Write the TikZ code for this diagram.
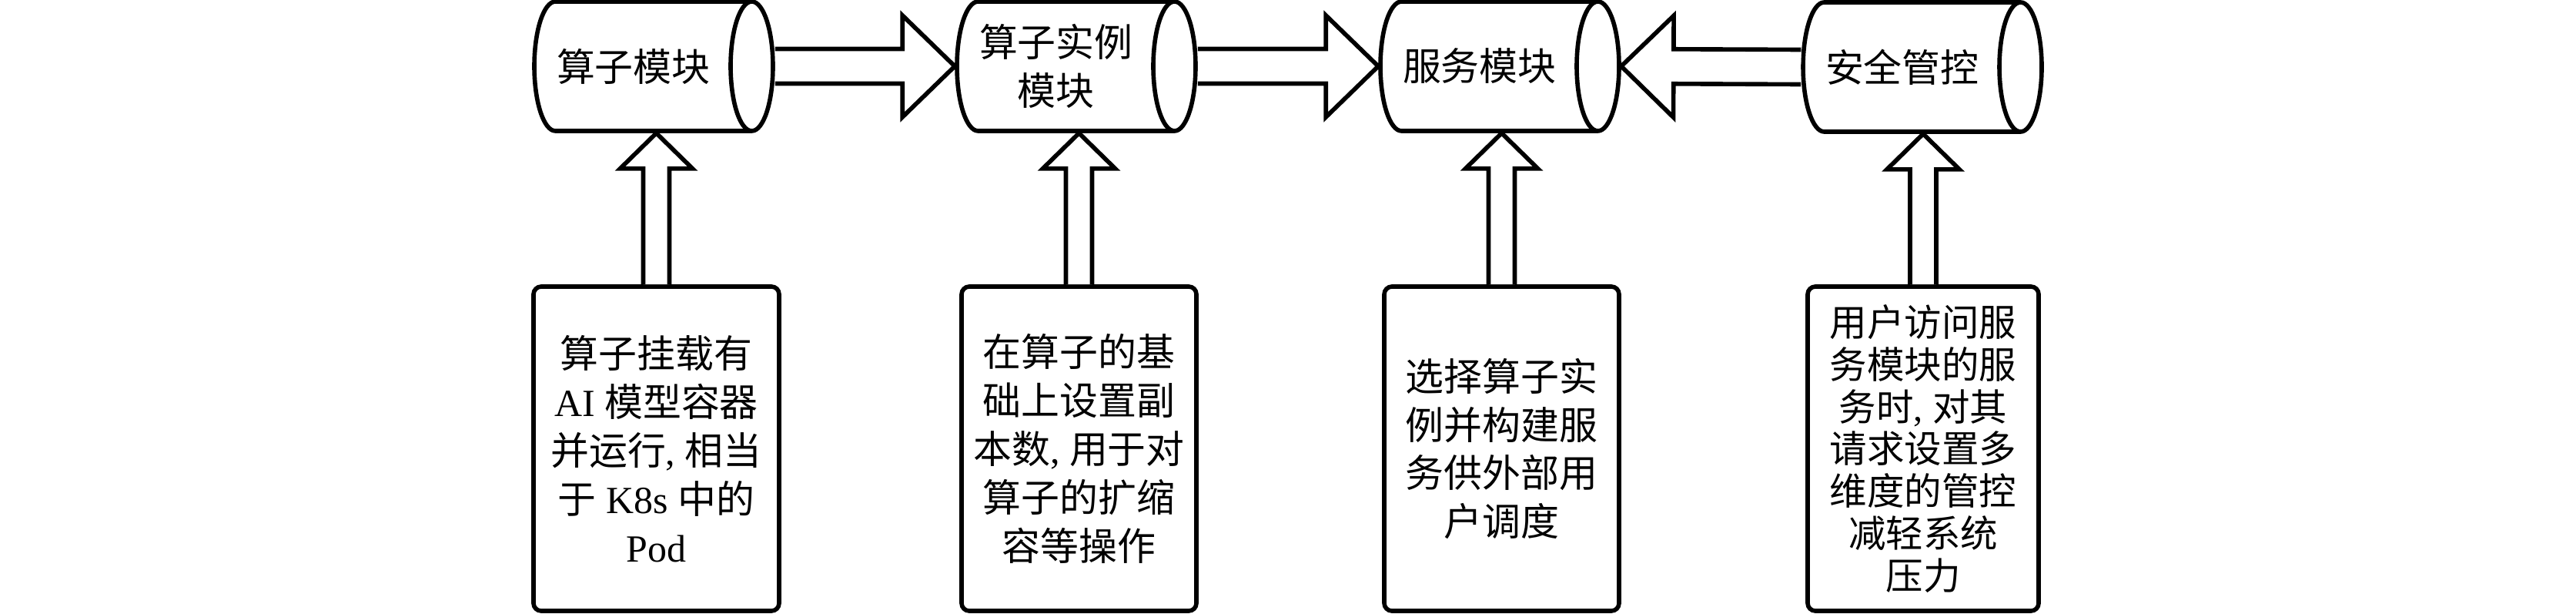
\documentclass[tikz,border=0pt]{standalone}
\usepackage{fontspec}
\setmainfont{Liberation Serif}
\newfontfamily\cjk{Noto Sans CJK SC}
\newcommand\en[1]{{\rmfamily #1}}
\newcommand\cyltext[1]{\parbox[c][1.1cm][c]{2.02cm}{\centering #1}\hspace*{0.22cm}}
\usetikzlibrary{shapes.geometric,calc}

\begin{document}
\begin{tikzpicture}[line width=1.6pt,
  every node/.style={font=\cjk\fontsize{14.2pt}{17.9pt}\selectfont, align=center},
  cyl/.style={draw, cylinder, shape aspect=0.5, minimum width=1.68cm, minimum height=3.1cm, inner sep=0pt, anchor=shape center},
  note/.style={draw, rounded corners=0.1cm, minimum width=3.05cm, minimum height=4.21cm, inner sep=0pt},
  fat/.style n args={3}{draw, fill=white, line join=miter, to path={
    ($(\tikztostart)!#1!90:(\tikztotarget)$)
    -- ($(\tikztotarget)!#3!(\tikztostart)!#1!-90:(\tikztostart)$)
    -- ($(\tikztotarget)!#3!(\tikztostart)!#2!-90:(\tikztostart)$)
    -- (\tikztotarget)
    -- ($(\tikztotarget)!#3!(\tikztostart)!#2!90:(\tikztostart)$)
    -- ($(\tikztotarget)!#3!(\tikztostart)!#1!90:(\tikztostart)$)
    -- ($(\tikztostart)!#1!-90:(\tikztotarget)$)}},
  hfat/.style={fat={0.225cm}{0.66cm}{0.68cm}},
  vfat/.style={fat={0.17cm}{0.47cm}{0.46cm}}]
\useasboundingbox (0,0) rectangle (33.46,-7.97);
\begin{scope}[shift={(0,0)}]
% modules
\node[cyl] (m1) at (8.49,-0.86) {\cyltext{算子模块}};
\node[cyl] (m2) at (13.98,-0.86) {\cyltext{算子实例\\模块}};
\node[cyl] (m3) at (19.48,-0.86) {\cyltext{服务模块}};
\node[cyl] (m4) at (24.97,-0.87) {\cyltext{安全管控}};
% notes
\node[note, minimum width=3.19cm] (t1) at (8.525,-5.825) {算子挂载有\\\en{AI }模型容器\\并运行\en{, }相当\\于\en{ K8s }中的\\\en{Pod}};
\node[note] (t2) at (14.015,-5.825) {在算子的基\\础上设置副\\本数\en{, }用于对\\算子的扩缩\\容等操作};
\node[note] (t3) at (19.505,-5.825) {选择算子实\\例并构建服\\务供外部用\\户调度};
\node[note, minimum width=3.0cm, font=\cjk\fontsize{13.8pt}{15.6pt}\selectfont] (t4) at (24.98,-5.825) {用户访问服\\务模块的服\\务时\en{, }对其\\请求设置多\\维度的管控\\减轻系统\\压力};
% arrows
\draw[hfat] (m1.east) to (m2.west);
\draw[hfat] (m2.east) to (m3.west);
\draw[hfat] (m4.west) to (m3.east);
\draw[vfat] (t1.north) to (t1.north |- m1.south);
\draw[vfat] (t2.north) to (t2.north |- m2.south);
\draw[vfat] (t3.north) to (t3.north |- m3.south);
\draw[vfat] (t4.north) to (t4.north |- m4.south);
\end{scope}
\end{tikzpicture}
\end{document}
